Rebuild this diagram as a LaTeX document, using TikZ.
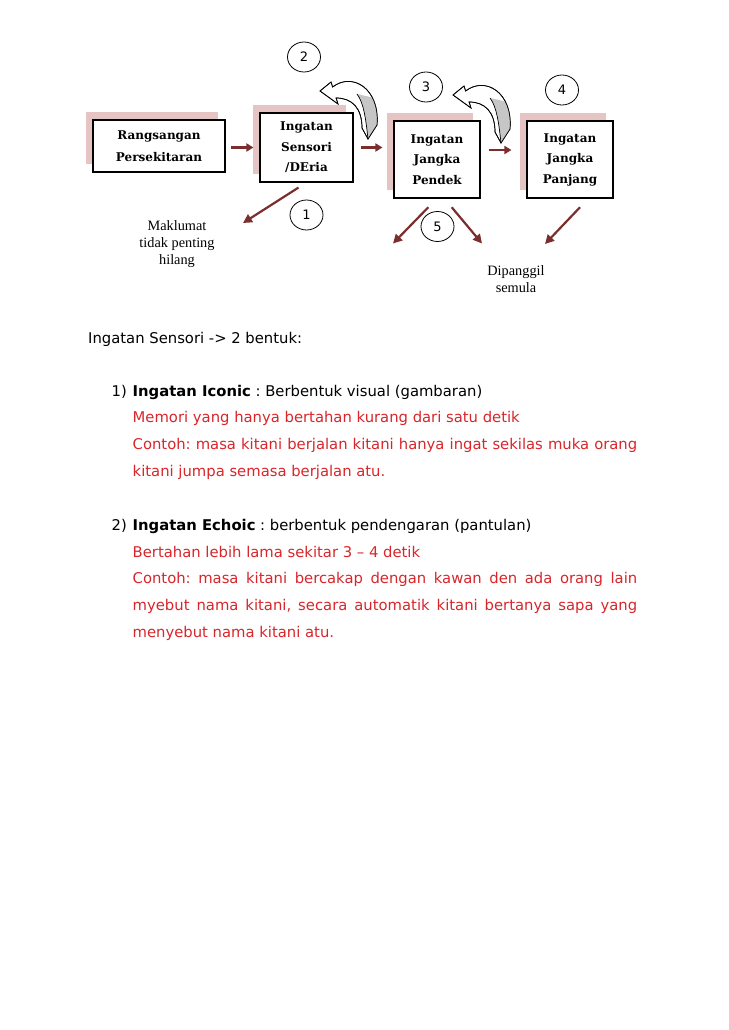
\documentclass[tikz,border=0pt]{standalone}
\usepackage{fontspec}
\setmainfont{DejaVu Sans}
\newfontfamily\boxfont{DejaVu Serif}
\newfontfamily\notefont{Liberation Serif}
\usetikzlibrary{arrows.meta,shadows,shapes.geometric}
\definecolor{memred}{HTML}{D9262B}
\definecolor{memarrow}{HTML}{7A2E2E}
\definecolor{mempink}{HTML}{E6C4C4}
\definecolor{memgrey}{HTML}{C6C6C6}
\frenchspacing
\def\curlshape{(0,0) -- (11,-9) -- (12.6,-4) .. controls (32,-19) and (60,-3) .. (57,34) -- (48,48) -- (42,37) .. controls (42,17) and (32,7) .. (16.1,7) -- (18,13) -- cycle}
\tikzset{
  stagebox/.style={
    draw=black,
    line width=1.1pt,
    fill=white,
    align=center,
    inner sep=0pt,
    font=\boxfont\bfseries\fontsize{12}{20.5}\selectfont,
    general shadow={fill=mempink, shadow xshift=-7pt, shadow yshift=8pt}
  },
  numcircle/.style={ellipse, draw=black, line width=0.8pt, minimum width=33pt, minimum height=30pt, inner sep=0pt, font=\fontsize{13}{14}\selectfont},
  flowarrow/.style={-{Triangle[length=7pt,width=8pt]}, line width=2.6pt, draw=memarrow},
  droparrow/.style={-{Triangle[length=9pt,width=9pt]}, line width=2.2pt, draw=memarrow},
  note/.style={align=center, inner sep=0pt, font=\notefont\fontsize{14.3}{16.7}\selectfont},
  bodyline/.style={anchor=base west, inner sep=0pt, font=\fontsize{14.8}{16}\selectfont},
  redline/.style={bodyline, text=memred},
  curlarrow/.pic={
    \filldraw[fill=white, line width=0.7pt] \curlshape;
    \begin{scope}
      \clip \curlshape;
      \fill[memgrey] (37,3) -- (50,6) -- (70,10) -- (70,60) -- (48,48) .. controls (46,30) and (44,12) .. (37,3);
    \end{scope}
    \draw[line width=0.7pt] (37,3) .. controls (44,12) and (46,30) .. (48,48);
    \draw[line width=0.7pt] \curlshape;
  }
}
\begin{document}
\begin{tikzpicture}[x=1pt, y=-1pt]
  \useasboundingbox (0,0) rectangle (728,1030);
  \fill[white] (0,0) rectangle (728,1030);
  % stages of memory
  \node[stagebox, minimum width=132pt, minimum height=52pt, font=\boxfont\bfseries\fontsize{12}{22.5}\selectfont] (stimulus) at (159,146) {Rangsangan\\Persekitaran};
  \node[stagebox, minimum width=93pt, minimum height=69pt] (sensory) at (306.5,147.5) {Ingatan\\Sensori\\/DEria};
  \node[stagebox, minimum width=86pt, minimum height=77pt] (short) at (437,159.5) {Ingatan\\Jangka\\Pendek};
  \node[stagebox, minimum width=86pt, minimum height=77pt] (long) at (570,159.5) {Ingatan\\Jangka\\Panjang};
  \draw[flowarrow] ([xshift=5pt]stimulus.east |- 0,147.5) -- ([xshift=-6pt]sensory.west);
  \draw[flowarrow] ([xshift=7pt]sensory.east) -- ([xshift=-11pt]sensory.east -| short.west);
  \draw[flowarrow] ([xshift=8pt,yshift=9.5pt]short.east) -- ([xshift=-15pt,yshift=9.5pt]short.east -| long.west);
  % curled arrows
  \pic at (320,91) {curlarrow};
  \pic at (453,95) {curlarrow};
  % numbers
  \node[numcircle] (n2) at (304,57) {2};
  \node[numcircle] (n1) at (306.5,215) {1};
  \node[numcircle] (n3) at (426,87) {3};
  \node[numcircle] (n4) at (562,90) {4};
  \node[numcircle] (n5) at (437.5,226.5) {5};
  % drops
  \coordinate (lost) at (243,223);
  \coordinate (shortleft) at (393,243.5);
  \coordinate (shortright) at (482,243.5);
  \coordinate (longleft) at (545,244);
  \draw[droparrow] ([xshift=-8pt,yshift=-5pt]sensory.south) -- (lost);
  \draw[droparrow] ([xshift=-8.7pt,yshift=-8.7pt]short.south) -- (shortleft);
  \draw[droparrow] ([xshift=14.7pt,yshift=-8.7pt]short.south) -- (shortright);
  \draw[droparrow] ([xshift=10pt,yshift=-8.7pt]long.south) -- (longleft);
  \node[note] (lostnote) at (177,244) {Maklumat\\tidak penting\\hilang};
  \node[note] (recall) at (516,279) {Dipanggil\\semula};
  % text below
  \node[bodyline] (intro) at (88,343) {Ingatan Sensori -> 2 bentuk:};
  \node[bodyline] (numa) at (111.5,396) {1)};
  \node[bodyline] (iconic) at (132.5,396) {\textbf{Ingatan Iconic} : Berbentuk visual (gambaran)};
  \node[redline] (iconica) at (132.5,422) {Memori yang hanya bertahan kurang dari satu detik};
  \node[redline] (iconicb) at (132.5,449.5) {\makebox[504.5pt][s]{Contoh: masa kitani berjalan kitani hanya ingat sekilas muka orang}};
  \node[redline] (iconicc) at (132.5,476.5) {kitani jumpa semasa berjalan atu.};
  \node[bodyline] (numb) at (111.5,530) {2)};
  \node[bodyline] (echoic) at (132.5,530) {\textbf{Ingatan Echoic} : berbentuk pendengaran (pantulan)};
  \node[redline] (echoica) at (132.5,557) {Bertahan lebih lama sekitar 3 – 4 detik};
  \node[redline] (echoicb) at (132.5,583.5) {\makebox[504.5pt][s]{Contoh: masa kitani bercakap dengan kawan den ada orang lain}};
  \node[redline] (echoicc) at (132.5,610) {\makebox[504.5pt][s]{myebut nama kitani, secara automatik kitani bertanya sapa yang}};
  \node[redline] (echoicd) at (132.5,637) {menyebut nama kitani atu.};
\end{tikzpicture}
\end{document}
